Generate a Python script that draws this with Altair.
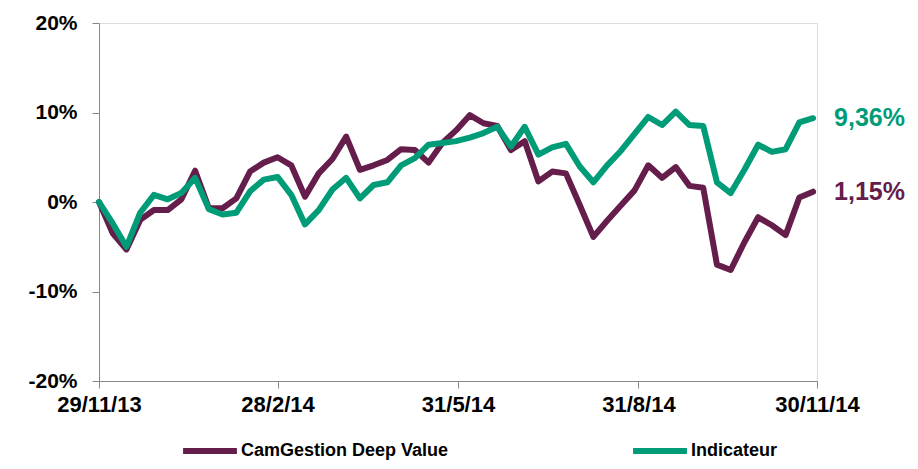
import altair as alt
import pandas as pd

# Weekly observation dates (Fridays), 29/11/2013 -> 28/11/2014
dates = pd.date_range("2013-11-29", periods=53, freq="7D").strftime("%Y-%m-%d").tolist()

series_names = ["CamGestion Deep Value", "Indicateur"]
series_colors = ["#651D4B", "#009B77"]

# Cumulative performance, %
cam = [0.0, -3.5, -5.3, -2.0, -0.9, -0.9, 0.3, 3.5, -0.7, -0.7,
       0.4, 3.4, 4.4, 5.0, 4.1, 0.6, 3.2, 4.8, 7.3, 3.6,
       4.1, 4.7, 5.9, 5.8, 4.4, 6.6, 8.0, 9.7, 8.8, 8.5,
       5.8, 6.8, 2.3, 3.4, 3.2, -0.3, -3.9, -2.1, -0.4, 1.3,
       4.1, 2.7, 3.9, 1.8, 1.6, -7.0, -7.6, -4.5, -1.7, -2.6,
       -3.7, 0.5, 1.15]
ind = [0.0, -2.4, -5.0, -1.2, 0.8, 0.3, 1.0, 2.7, -0.8, -1.4,
       -1.2, 1.2, 2.5, 2.8, 0.8, -2.5, -0.9, 1.4, 2.7, 0.4,
       1.9, 2.2, 4.1, 4.9, 6.4, 6.6, 6.8, 7.2, 7.7, 8.4,
       6.2, 8.4, 5.3, 6.1, 6.5, 4.0, 2.2, 4.1, 5.7, 7.6,
       9.5, 8.6, 10.1, 8.6, 8.5, 2.2, 1.0, 3.6, 6.4, 5.6,
       5.9, 8.9, 9.36]

y_ticks = [-20, -10, 0, 10, 20]
x_tick_dates = [(2013, 11, 29), (2014, 2, 28), (2014, 5, 31), (2014, 8, 31), (2014, 11, 30)]

rows = []
for name, vals in zip(series_names, [cam, ind]):
    for d, v in zip(dates, vals):
        rows.append({"date": d, "value": v, "series": name})
df = pd.DataFrame(rows)

end_df = pd.DataFrame({
    "date": [dates[-1], dates[-1]],
    "value": [cam[-1], ind[-1]],
    "series": series_names,
    "label": [f"{cam[-1]:.2f}".replace(".", ",") + "%", f"{ind[-1]:.2f}".replace(".", ",") + "%"],
})

FONT = "Liberation Sans"
color_scale = alt.Scale(domain=series_names, range=series_colors)

x_enc = alt.X(
    "date:T",
    scale=alt.Scale(type="utc", domain=[alt.DateTime(year=2013, month=11, date=29, utc=True),
                                        alt.DateTime(year=2014, month=11, date=30, utc=True)]),
    axis=alt.Axis(
        values=[alt.DateTime(year=y, month=m, date=d, utc=True) for (y, m, d) in x_tick_dates],
        labelExpr="utcFormat(datum.value, '%-d/%-m/%y')", title=None, grid=False,
        labelFontSize=22, labelFontWeight="bold", labelPadding=6,
        tickSize=7, labelFlush=False, labelOverlap=False,
    ),
)
y_enc = alt.Y(
    "value:Q",
    scale=alt.Scale(domain=[-20, 20], nice=False),
    axis=alt.Axis(values=y_ticks, labelExpr="datum.value + '%'", title=None, grid=False,
                  labelFontSize=21, labelFontWeight="bold", labelPadding=15, tickSize=7),
)

lines = alt.Chart(df).mark_line(strokeWidth=6, strokeJoin="round", strokeCap="round").encode(
    x=x_enc,
    y=y_enc,
    color=alt.Color(
        "series:N", scale=color_scale, sort=series_names,
        legend=alt.Legend(
            orient="none", legendX=81, legendY=398, direction="horizontal", title=None,
            symbolType="stroke", symbolSize=2900, symbolStrokeWidth=6,
            labelFontSize=18, labelFontWeight="bold", labelFont=FONT, labelColor="#000000",
            labelLimit=0, columnPadding=172, labelOffset=1, padding=0,
        ),
    ),
    order=alt.Order("date:T"),
)

labels = alt.Chart(end_df).mark_text(
    align="left", baseline="middle", dx=21, fontSize=25, fontWeight="bold", font=FONT
).encode(
    x="date:T",
    y="value:Q",
    text="label:N",
    color=alt.Color("series:N", scale=color_scale, legend=None),
)

chart = alt.layer(lines, labels).properties(
    width=718, height=358,
    autosize=alt.AutoSizeParams(type="none"),
    padding={"left": 91, "top": 15, "right": 93, "bottom": 80},
).configure_view(stroke=None).configure_axis(
    domainColor="#000000", domainWidth=2, tickColor="#000000", tickWidth=2,
    labelColor="#000000", labelFont=FONT,
).configure(font=FONT)

chart.save("out.html", embed_options={"renderer": "svg", "actions": False})
